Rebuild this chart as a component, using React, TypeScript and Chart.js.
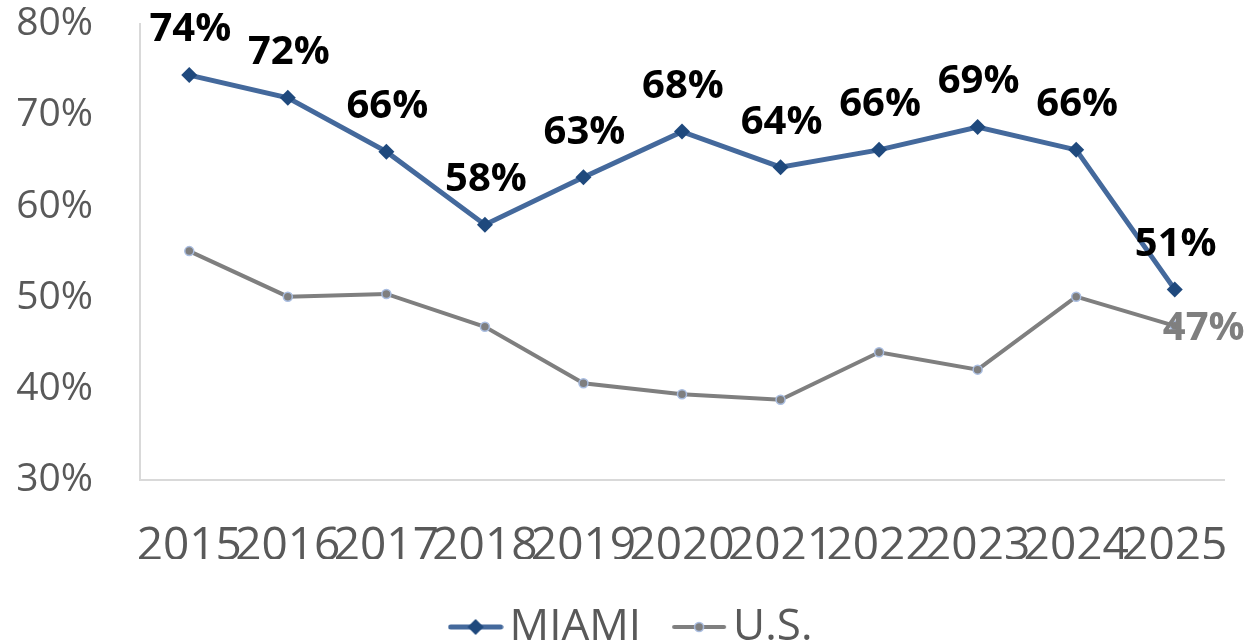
import React, { useEffect, useRef } from "react";
import { Chart, registerables } from "chart.js";

Chart.register(...registerables);

const years = ["2015", "2016", "2017", "2018", "2019", "2020", "2021", "2022", "2023", "2024", "2025"];
const miami = [74.4, 71.9, 66.0, 58.0, 63.2, 68.2, 64.3, 66.2, 68.7, 66.2, 50.9];
const us = [55.1, 50.1, 50.4, 46.8, 40.6, 39.4, 38.8, 44.0, 42.1, 50.1, 46.9];
const seriesNames = ["MIAMI", "U.S."];
const yMin = 30;
const yMax = 80;
const yStep = 10;

const FONT = "'Open Sans', sans-serif";
const MIAMI_LINE = "#44699c";
const MIAMI_MARK = "#1f497d";
const US_LINE = "#7f7f7f";
const US_BORDER = "#a9bde0";
const AXIS_TEXT = "#595959";

function makeIcon(kind: "diamond" | "circle"): HTMLCanvasElement {
  const c = document.createElement("canvas");
  c.width = 56;
  c.height = 20;
  const g = c.getContext("2d")!;
  g.lineCap = "round";
  g.beginPath();
  g.moveTo(3, 10);
  g.lineTo(53, 10);
  if (kind === "diamond") {
    g.strokeStyle = MIAMI_LINE;
    g.lineWidth = 5;
    g.stroke();
    g.beginPath();
    g.moveTo(20, 10);
    g.lineTo(28, 2);
    g.lineTo(36, 10);
    g.lineTo(28, 18);
    g.closePath();
    g.fillStyle = MIAMI_MARK;
    g.fill();
  } else {
    g.strokeStyle = US_LINE;
    g.lineWidth = 4;
    g.stroke();
    g.beginPath();
    g.arc(28, 10, 4.5, 0, Math.PI * 2);
    g.fillStyle = US_LINE;
    g.fill();
    g.lineWidth = 1.5;
    g.strokeStyle = US_BORDER;
    g.stroke();
  }
  return c;
}

const valueLabels = {
  id: "valueLabels",
  afterDatasetsDraw(chart: any) {
    const ctx = chart.ctx;
    ctx.save();
    ctx.font = `bold 40px ${FONT}`;
    ctx.textAlign = "center";
    ctx.textBaseline = "middle";
    ctx.fillStyle = "#000000";
    const m0 = chart.getDatasetMeta(0);
    m0.data.forEach((pt: any, i: number) => {
      ctx.fillText(Math.round(miami[i]) + "%", pt.x + 1, pt.y - 45);
    });
    const m1 = chart.getDatasetMeta(1);
    const last = m1.data[m1.data.length - 1];
    ctx.fillStyle = "#7f7f7f";
    ctx.fillText(Math.round(us[us.length - 1]) + "%", last.x + 29, last.y + 3);
    ctx.restore();
  },
};

const legendShift = {
  id: "legendShift",
  afterLayout(chart: any) {
    if (chart.legend) {
      chart.legend.left += 26;
      chart.legend.right += 26;
    }
  },
};

export default function App() {
  const ref = useRef<HTMLCanvasElement>(null);
  useEffect(() => {
    document.body.style.margin = "0";
    document.body.style.overflow = "hidden";
    const icons = [makeIcon("diamond"), makeIcon("circle")];
    const chart = new Chart(ref.current!, {
      type: "line",
      data: {
        labels: years,
        datasets: [
          {
            label: seriesNames[0],
            data: miami,
            borderColor: MIAMI_LINE,
            backgroundColor: MIAMI_MARK,
            borderWidth: 5,
            tension: 0,
            pointStyle: "rectRot",
            pointRadius: 8,
            pointBorderWidth: 0,
            pointBackgroundColor: MIAMI_MARK,
            pointBorderColor: MIAMI_MARK,
          },
          {
            label: seriesNames[1],
            data: us,
            borderColor: US_LINE,
            backgroundColor: US_LINE,
            borderWidth: 4,
            tension: 0,
            pointStyle: "circle",
            pointRadius: 4.5,
            pointBorderWidth: 1.5,
            pointBackgroundColor: US_LINE,
            pointBorderColor: US_BORDER,
          },
        ],
      },
      options: {
        responsive: false,
        devicePixelRatio: 1,
        animation: false,
        layout: { padding: { left: 0, right: 28, top: 24, bottom: 0 } },
        plugins: {
          tooltip: { enabled: false },
          legend: {
            position: "bottom",
            labels: {
              usePointStyle: true,
              pointStyleWidth: 24,
              padding: 46,
              color: AXIS_TEXT,
              font: { family: FONT, size: 44 },
              generateLabels: (ch: any) => {
                const items = Chart.defaults.plugins.legend.labels.generateLabels(ch);
                return items.map((it: any, i: number) => ({ ...it, pointStyle: icons[i] }));
              },
            },
          },
        },
        scales: {
          x: {
            offset: true,
            grid: { display: false, drawTicks: false },
            border: { display: true, color: "#d9d9d9", width: 2 },
            ticks: {
              autoSkip: false,
              maxRotation: 0,
              minRotation: 0,
              padding: 39,
              color: AXIS_TEXT,
              font: { family: FONT, size: 46 },
            },
            afterFit: (s: any) => {
              s.height = 79;
              s.paddingLeft = 0;
              s.paddingRight = 0;
            },
          },
          y: {
            min: yMin,
            max: yMax,
            grid: { display: false, drawTicks: false },
            border: { display: true, color: "#d9d9d9", width: 2 },
            ticks: {
              stepSize: yStep,
              padding: 47,
              color: AXIS_TEXT,
              font: { family: FONT, size: 39 },
              callback: (v: any) => v + "%",
            },
            afterFit: (s: any) => {
              s.width = 140;
              s.paddingTop = 0;
              s.paddingBottom = 0;
            },
          },
        },
      },
      plugins: [valueLabels, legendShift],
    });
    return () => chart.destroy();
  }, []);
  return <canvas ref={ref} width={1252} height={659} style={{ display: "block" }} />;
}
